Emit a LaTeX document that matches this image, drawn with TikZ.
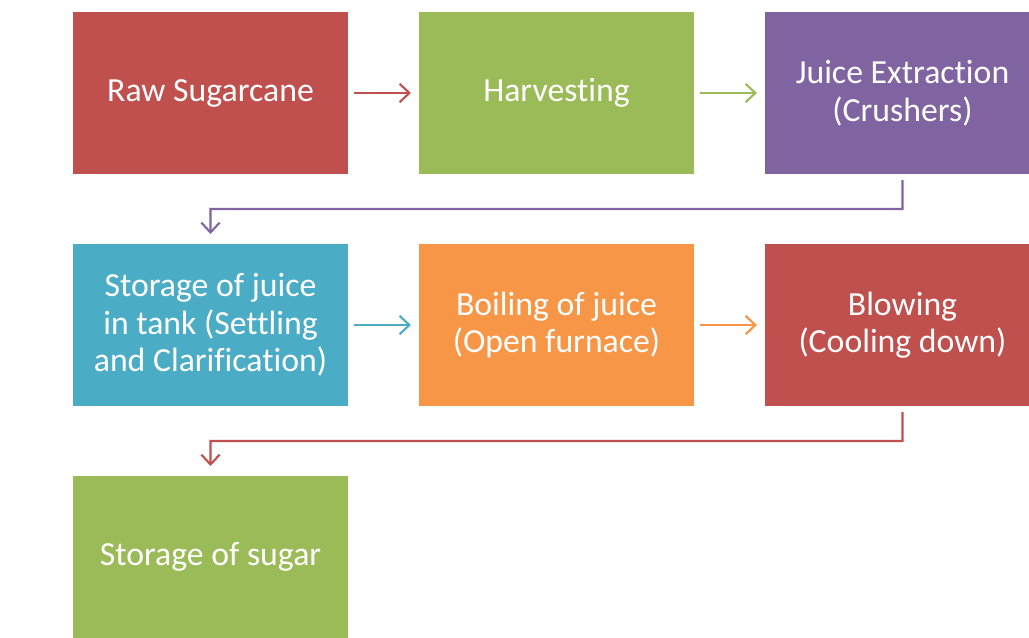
\documentclass[tikz,border=0pt]{standalone}
\usepackage{fontspec}
\setmainfont[Ligatures={NoCommon}]{Carlito}
\usetikzlibrary{calc, positioning, arrows.meta}
\def\stepwidth{6.875cm}
\def\stepheight{4.05cm}
\def\xgap{1.775cm}
\def\ygap{1.75cm}
\definecolor{stepred}{HTML}{C0504D}
\definecolor{stepgreen}{HTML}{9BBB59}
\definecolor{steppurple}{HTML}{8064A2}
\definecolor{stepblue}{HTML}{4BACC6}
\definecolor{steporange}{HTML}{F79646}
\tikzset{
	% process steps
	stepbox/.style={
		shape=rectangle,
		draw=none,
		minimum width=\stepwidth,
		minimum height=\stepheight,
		inner sep=0pt,
		outer sep=0pt,
		text=white,
		align=center,
		font=\fontsize{24}{26.7}\selectfont,
	},
	% connections
	flow/.style={
		line width=1.5pt,
		-{Straight Barb[length=7pt,width=13pt,line width=1.5pt]},
		shorten <=0.15cm,
		shorten >=0.2cm,
	},
}
\begin{document}
\begin{tikzpicture}
		\useasboundingbox (0,0) rectangle (25.725,-15.925);
		\clip (0,0) rectangle (25.725,-15.925);

		% First row
		\node [
			stepbox,
			fill=stepred,
		] (raw) at (5.2625,-2.325) {Raw Sugarcane};
		\node [
			stepbox,
			fill=stepgreen,
			right=\xgap of raw,
		] (harvest) {Harvesting};
		\node [
			stepbox,
			fill=steppurple,
			right=\xgap of harvest,
		] (extraction) {Juice Extraction\\(Crushers)};

		% Second row
		\node [
			stepbox,
			fill=stepblue,
			below=\ygap of raw,
		] (storage) {Storage of juice\\in tank (Settling\\and Clarification)};
		\node [
			stepbox,
			fill=steporange,
			right=\xgap of storage,
		] (boiling) {Boiling of juice\\(Open furnace)};
		\node [
			stepbox,
			fill=stepred,
			right=\xgap of boiling,
		] (blowing) {Blowing\\(Cooling down)};

		% Third row
		\node [
			stepbox,
			fill=stepgreen,
			below=\ygap of storage,
		] (sugar) {Storage of sugar};

		% Bends
		\coordinate (bend1) at ($(extraction.south)!0.5!(extraction.south|-storage.north)$);
		\coordinate (bend2) at ($(blowing.south)!0.5!(blowing.south|-sugar.north)$);

		% Connections
		\draw[flow, draw=stepred] (raw) -- (harvest);
		\draw[flow, draw=stepgreen] (harvest) -- (extraction);
		\draw[flow, draw=steppurple, shorten >=0.25cm] (extraction.south) -- (bend1) -| (storage.north);
		\draw[flow, draw=stepblue] (storage) -- (boiling);
		\draw[flow, draw=steporange] (boiling) -- (blowing);
		\draw[flow, draw=stepred, shorten >=0.25cm] (blowing.south) -- (bend2) -| (sugar.north);
	\end{tikzpicture}
\end{document}
